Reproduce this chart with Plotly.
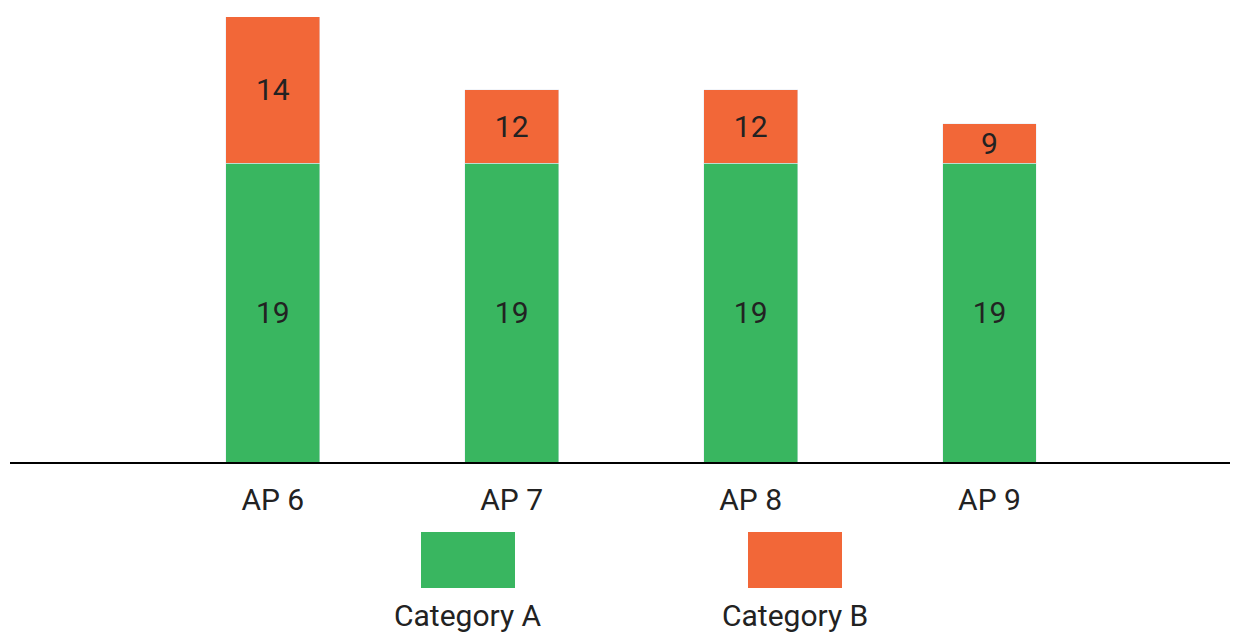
import plotly.graph_objects as go

categories = ["AP 6", "AP 7", "AP 8", "AP 9"]
# bar heights as drawn (in units where green = 19)
cat_a_values = [19, 19, 19, 19]
cat_b_values = [9.3, 4.65, 4.65, 2.5]
# labels printed on the bars
cat_a_labels = ["19", "19", "19", "19"]
cat_b_labels = ["14", "12", "12", "9"]
series_names = ["Category A", "Category B"]

GREEN = "#39B660"
ORANGE = "#F26738"
TEXT = "#222222"
FONT = "Roboto"

OFF = 8  # page body margin
W, H = 1238 - OFF, 637 - OFF
ML, MR, MT, MB = 10 - OFF, 0, 17 - OFF, 637 - 462
plot_h = H - MT - MB
plot_w = W - ML - MR


def px_x(px):
    return (px - OFF - ML) / plot_w


def px_y(py):
    return (H - MB - (py - OFF)) / plot_h


fig = go.Figure()
fig.add_trace(go.Bar(x=categories, y=cat_a_values, name=series_names[0], marker_color=GREEN,
                     text=cat_a_labels, textposition="inside", insidetextanchor="middle",
                     textangle=0,
                     textfont=dict(family=FONT, size=30, color=TEXT), showlegend=False,
                     width=0.393))
fig.add_trace(go.Bar(x=categories, y=cat_b_values, name=series_names[1], marker_color=ORANGE,
                     text=cat_b_labels, textposition="inside", insidetextanchor="middle",
                     textangle=0, constraintext="none",
                     textfont=dict(family=FONT, size=30, color=TEXT), showlegend=False,
                     width=0.393))

# custom legend: large swatches with label below
legend_items = [(series_names[0], GREEN, 421, 515), (series_names[1], ORANGE, 748, 842)]
for name, color, x0, x1 in legend_items:
    fig.add_shape(type="rect", xref="paper", yref="paper",
                  x0=px_x(x0), x1=px_x(x1), y0=px_y(588), y1=px_y(532),
                  fillcolor=color, line_width=0)
    fig.add_annotation(xref="paper", yref="paper", x=px_x((x0 + x1) / 2), y=px_y(616),
                       text=name, showarrow=False, xanchor="center", yanchor="middle",
                       font=dict(family=FONT, size=30, color=TEXT))

fig.update_layout(
    width=W, height=H, barmode="stack",
    margin=dict(l=ML, r=MR, t=MT, b=MB),
    plot_bgcolor="white", paper_bgcolor="white",
    uniformtext=dict(mode=False),
    xaxis=dict(range=[-1.1, 4.04], showline=True, linecolor="black", linewidth=2,
               showgrid=False, zeroline=False, ticks="outside", ticklen=10, tickcolor="rgba(0,0,0,0)",
               tickfont=dict(family=FONT, size=30, color=TEXT)),
    yaxis=dict(range=[0, 28.28], visible=False, showgrid=False, zeroline=False),
)

fig.write_html("out.html")
